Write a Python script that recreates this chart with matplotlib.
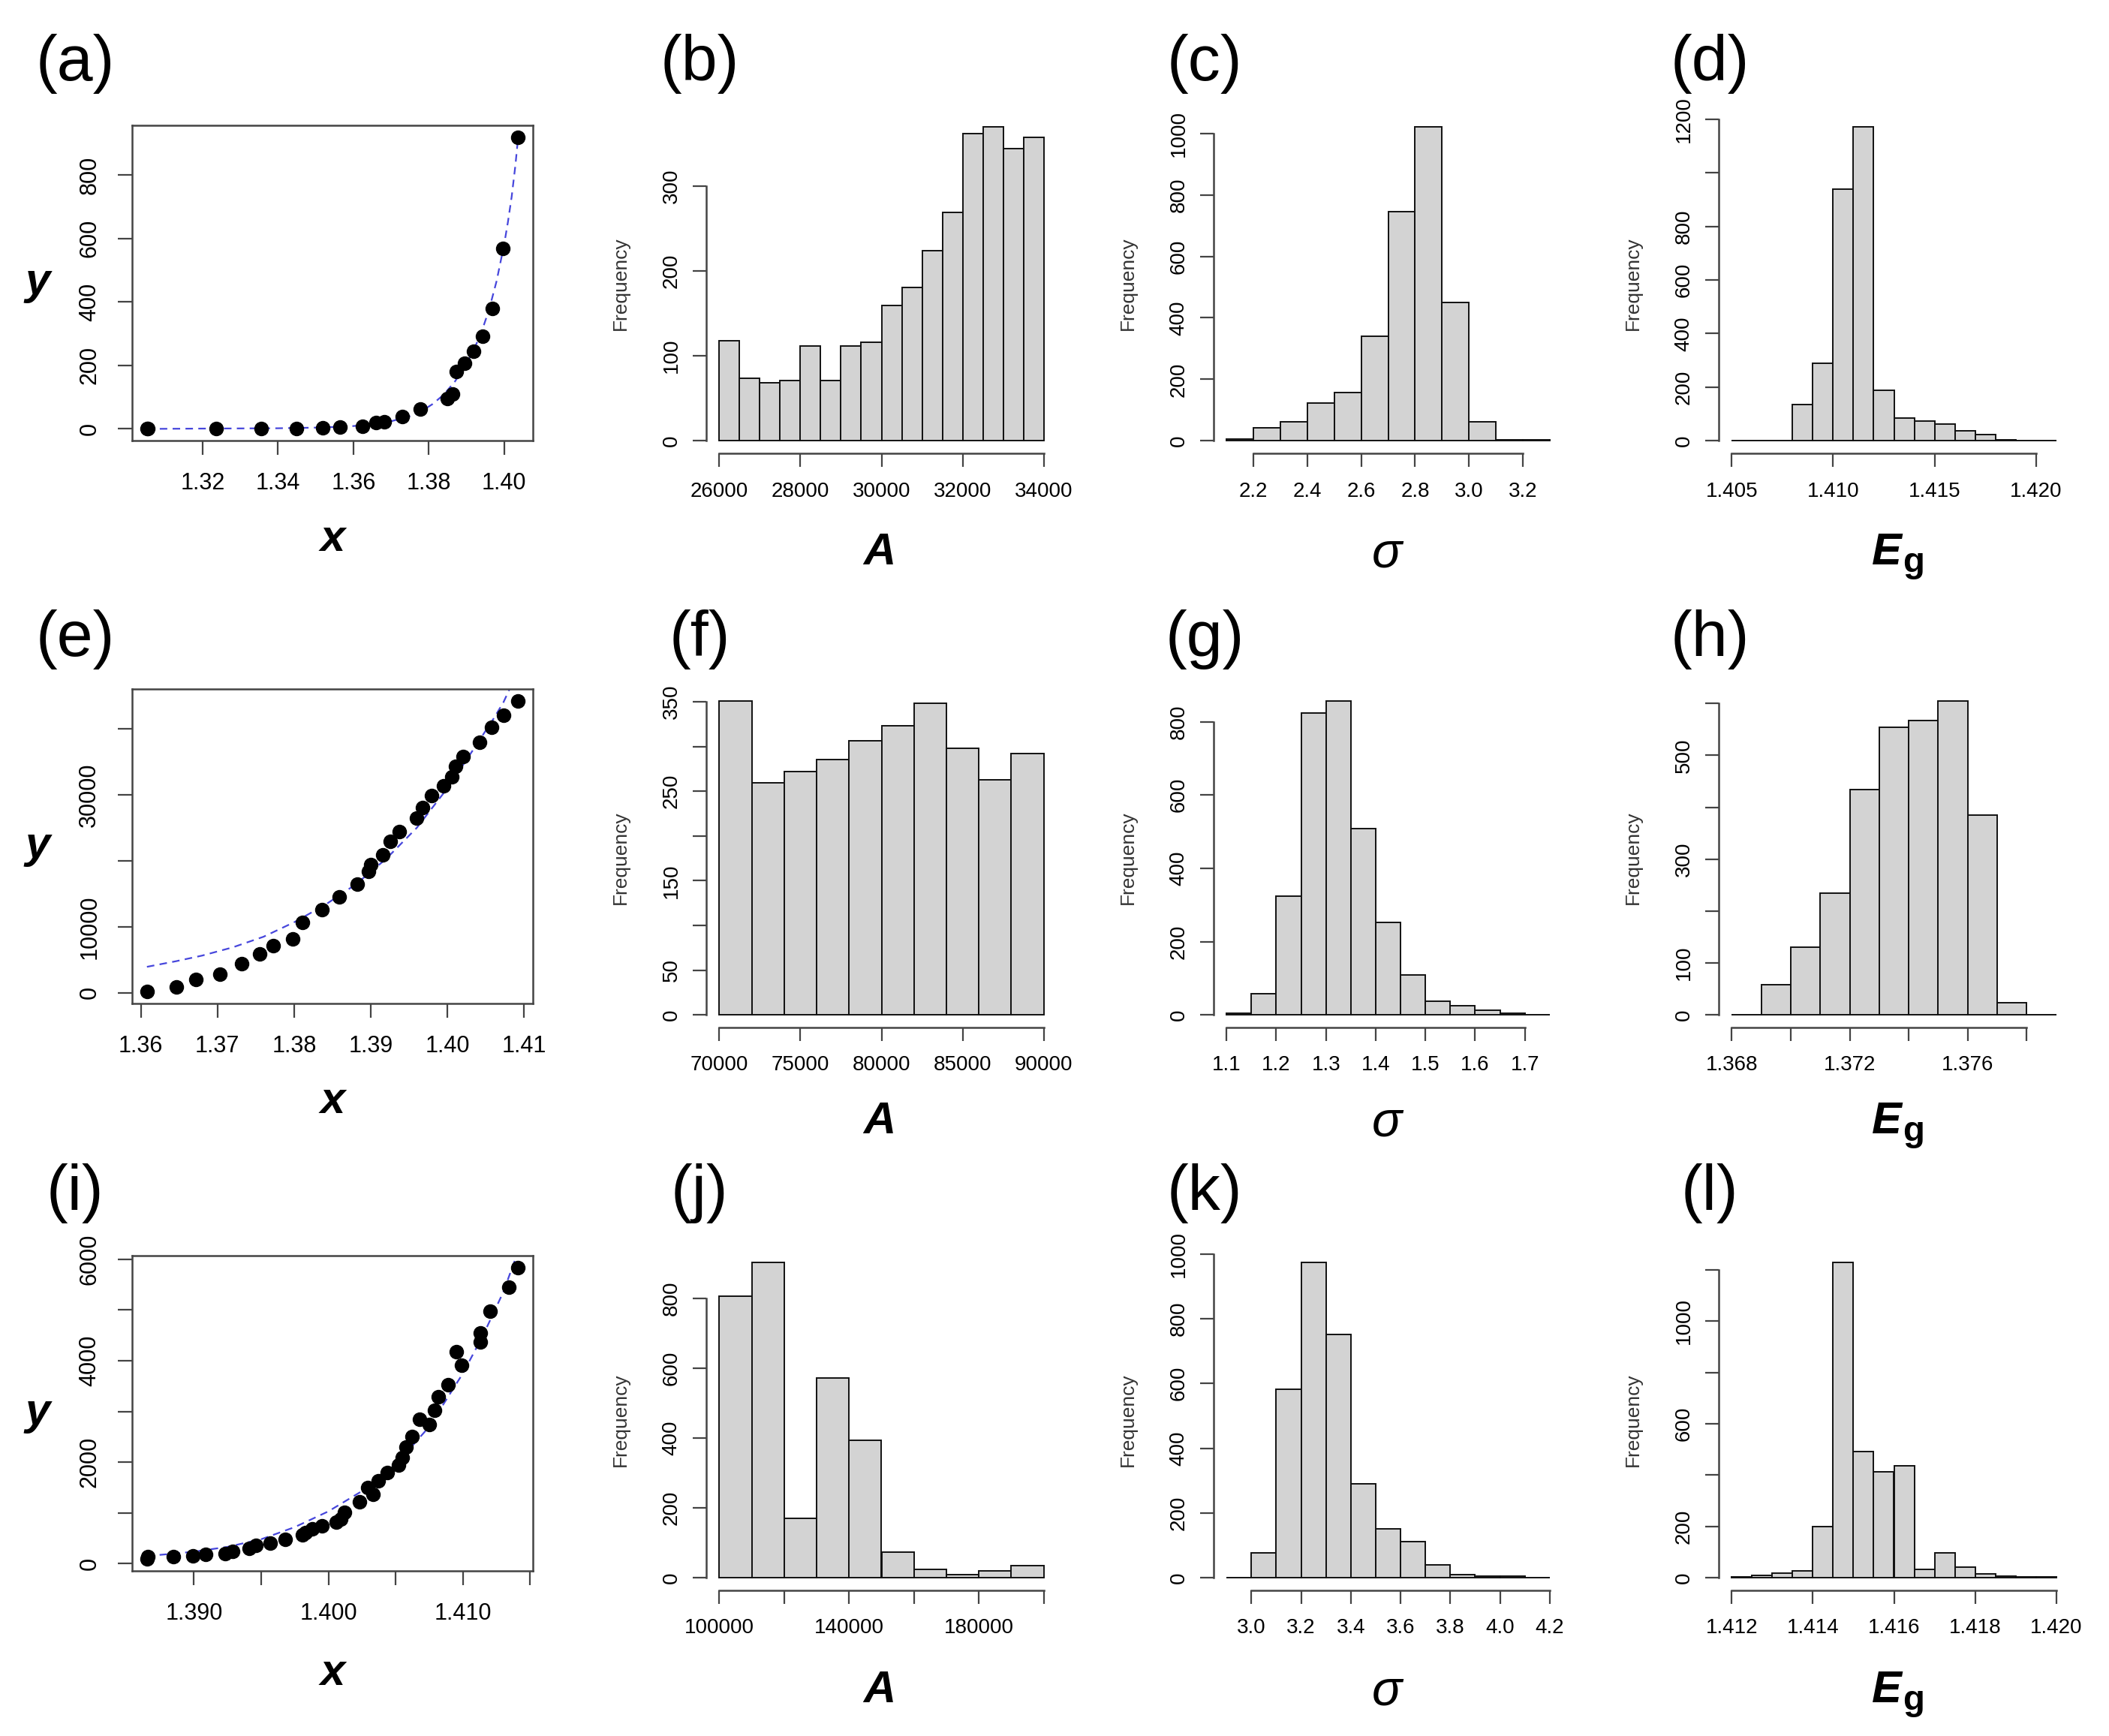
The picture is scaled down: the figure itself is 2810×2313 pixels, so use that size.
import numpy as np
import matplotlib
matplotlib.use("Agg")
import matplotlib.pyplot as plt

plt.rcParams['font.family'] = ['Liberation Sans', 'DejaVu Sans']

W, H = 2810, 2313
BLUE = '#4646dc'
AXC = '#444444'

# ---------------- scatter data (x, y) and fitted curves ----------------
a_x = [1.3052, 1.3055, 1.3236, 1.3355, 1.3449, 1.3519, 1.3565, 1.3624, 1.3661, 1.3681,
       1.3729, 1.3777, 1.3850, 1.3863, 1.3873, 1.3895, 1.3919, 1.3943, 1.3968, 1.3996, 1.4037]
a_y = [0, 2, 1, 1, 2, 4, 6, 8, 20, 22, 38, 62, 96, 109, 180, 206, 245, 291, 378, 568, 919]
a_fit_x = [1.3052, 1.32, 1.34, 1.35, 1.355, 1.36, 1.365, 1.37, 1.375, 1.378, 1.381, 1.384,
           1.387, 1.39, 1.392, 1.394, 1.396, 1.398, 1.400, 1.401, 1.402, 1.403, 1.4037]
a_fit_y = [0, 1, 2, 4, 6, 9, 14, 24, 40, 55, 78, 108, 150, 205, 250, 305, 375, 465, 580,
           650, 730, 830, 915]

e_x = [1.3608, 1.3646, 1.3672, 1.3703, 1.3732, 1.3755, 1.3773, 1.3798, 1.3811, 1.3836,
       1.3859, 1.3882, 1.3897, 1.3900, 1.3916, 1.3925, 1.3937, 1.3960, 1.3967, 1.3979,
       1.3995, 1.4006, 1.4011, 1.4020, 1.4042, 1.4058, 1.4073, 1.4092]
e_y = [165, 937, 2094, 2865, 4408, 5895, 7163, 8154, 10634, 12562, 14490, 16419, 18402,
       19449, 20937, 22975, 24408, 26446, 28044, 29862, 31350, 32672, 34270, 35813, 37906,
       40220, 42039, 44242]
e_fit_x = [1.3608, 1.3646, 1.368, 1.372, 1.376, 1.380, 1.384, 1.388, 1.392, 1.396, 1.400,
           1.403, 1.406, 1.4073, 1.4081, 1.4092]
e_fit_y = [3950, 4800, 5650, 6900, 8500, 10700, 13300, 16400, 20300, 25000, 31000, 36200,
           41500, 44000, 46000, 49000]

i_x = [1.38651, 1.3866, 1.38845, 1.3899, 1.39085, 1.3923, 1.3929, 1.3941, 1.3946, 1.3957,
       1.3968, 1.3981, 1.3983, 1.3988, 1.3995, 1.4006, 1.4009, 1.4012, 1.4023, 1.4029,
       1.4033, 1.4037, 1.4044, 1.4052, 1.4055, 1.4058, 1.4062, 1.4068, 1.4075, 1.4079,
       1.4082, 1.4089, 1.4095, 1.4099, 1.4113, 1.4113, 1.4120, 1.4134, 1.4141]
i_y = [87, 145, 131, 160, 182, 196, 240, 305, 364, 400, 473, 567, 618, 691, 742, 822, 873,
       1018, 1222, 1505, 1360, 1636, 1796, 1942, 2087, 2291, 2509, 2851, 2742, 3018, 3295,
       3527, 4182, 3905, 4545, 4364, 4982, 5455, 5840]
i_fit_x = [1.3865, 1.388, 1.390, 1.3925, 1.395, 1.3975, 1.400, 1.4025, 1.405, 1.4075,
           1.410, 1.4115, 1.413, 1.4141]
i_fit_y = [150, 185, 235, 330, 480, 720, 1030, 1430, 1950, 2700, 3750, 4500, 5350, 6150]

# ---------------- histogram data (bin edges, counts) ----------------
b_breaks = np.linspace(26000, 34000, 17)
b_counts = [118, 74, 68, 71, 112, 71, 112, 116, 159, 181, 224, 269, 362, 370, 344, 357]

c_breaks = np.linspace(2.1, 3.3, 13)
c_counts = [6, 41, 61, 122, 158, 341, 746, 1022, 450, 61, 2, 2]

d_breaks = np.linspace(1.405, 1.421, 17)
d_counts = [1, 1, 1, 135, 289, 939, 1172, 188, 84, 73, 63, 38, 24, 3, 1, 1]

f_breaks = np.linspace(70000, 90000, 11)
f_counts = [351, 259, 272, 285, 306, 323, 348, 298, 263, 292]

g_breaks = np.linspace(1.10, 1.75, 14)
g_counts = [5, 58, 324, 823, 857, 508, 252, 109, 37, 25, 12, 4, 1]

h_breaks = np.linspace(1.368, 1.379, 12)
h_counts = [1, 58, 131, 235, 434, 554, 567, 605, 385, 23, 1]

j_breaks = np.linspace(100000, 200000, 11)
j_counts = [805, 903, 170, 572, 394, 73, 25, 8, 20, 34]

k_breaks = np.linspace(2.9, 4.2, 14)
k_counts = [1, 77, 583, 974, 751, 291, 151, 112, 40, 10, 6, 4, 1]

l_breaks = np.linspace(1.412, 1.420, 17)
l_counts = [4, 9, 17, 27, 200, 1229, 492, 413, 437, 32, 96, 42, 14, 6, 3, 3]


def px_box(l, t, r, b):
    return [l / W, 1 - b / H, (r - l) / W, (b - t) / H]


def ftext(x, y, s, **kw):
    fig.text(x / W, 1 - y / H, s, **kw)


def r_lim(vals):
    # R style axis range: data range extended by 4% on each side
    lo, hi = min(vals), max(vals)
    pad = 0.04 * (hi - lo)
    return lo - pad, hi + pad


def center_ylabels(ax):
    for t in ax.get_yticklabels():
        t.set_rotation(90)
        t.set_verticalalignment('center')
        t.set_horizontalalignment('right')


def scatter_panel(box, px, py, cx, cy, xticks, xlabels, yticks, ylabels):
    ax = fig.add_axes(px_box(*box))
    ax.plot(cx, cy, color=BLUE, lw=1.6, ls=(0, (4.5, 3.2)))
    ax.plot(px, py, 'o', ms=13, color='black')
    ax.set_xlim(r_lim(px))
    ax.set_ylim(r_lim(py))
    ax.set_xticks(xticks, xlabels)
    ax.set_yticks(yticks, ylabels)
    ax.tick_params(length=14, width=1.6, labelsize=22, pad=16, color=AXC)
    center_ylabels(ax)
    for s in ax.spines.values():
        s.set_linewidth(1.8)
        s.set_color(AXC)
    return ax


def hist_panel(box, breaks, counts, xticks, xlabels, yticks, ylabels):
    ax = fig.add_axes(px_box(*box))
    ax.bar(breaks[:-1], counts, width=np.diff(breaks), align='edge',
           color='#d3d3d3', edgecolor='#111111', linewidth=1.4)
    ax.set_xlim(r_lim(breaks))
    ax.set_ylim(r_lim([0] + counts))
    ax.set_xticks(xticks, xlabels)
    ax.set_yticks(yticks, ylabels)
    ax.tick_params(length=13, width=1.6, labelsize=20, color=AXC)
    ax.tick_params(axis='x', pad=14)
    ax.tick_params(axis='y', pad=11)
    center_ylabels(ax)
    ax.spines['top'].set_visible(False)
    ax.spines['right'].set_visible(False)
    ax.spines['left'].set_bounds(yticks[0], yticks[-1])
    ax.spines['bottom'].set_bounds(xticks[0], xticks[-1])
    for s in ('left', 'bottom'):
        ax.spines[s].set_linewidth(1.8)
        ax.spines[s].set_color(AXC)
    l, t, r, b = box
    ftext(l - 114, (t + b) / 2, 'Frequency', rotation=90, fontsize=19,
          ha='center', va='center', color='#333333')
    return ax


fig = plt.figure(figsize=(W / 100, H / 100), dpi=100)

# row positions (pixels)
sc_rows = [(167, 587), (918, 1337), (1673, 2093)]
hi_rows = [(152, 604), (917, 1369), (1665, 2119)]
sc_col = (176, 710)
hi_cols = [(941, 1408), (1617, 2082), (2290, 2757)]

# scatter panels
scatter_panel((sc_col[0], sc_rows[0][0], sc_col[1], sc_rows[0][1]), a_x, a_y, a_fit_x, a_fit_y,
              [1.32, 1.34, 1.36, 1.38, 1.40], ['1.32', '1.34', '1.36', '1.38', '1.40'],
              [0, 200, 400, 600, 800], ['0', '200', '400', '600', '800'])
scatter_panel((sc_col[0], sc_rows[1][0], sc_col[1], sc_rows[1][1]), e_x, e_y, e_fit_x, e_fit_y,
              [1.36, 1.37, 1.38, 1.39, 1.40, 1.41], ['1.36', '1.37', '1.38', '1.39', '1.40', '1.41'],
              [0, 10000, 20000, 30000, 40000], ['0', '10000', '', '30000', ''])
scatter_panel((sc_col[0], sc_rows[2][0], sc_col[1], sc_rows[2][1]), i_x, i_y, i_fit_x, i_fit_y,
              [1.390, 1.395, 1.400, 1.405, 1.410, 1.415], ['1.390', '', '1.400', '', '1.410', ''],
              [0, 1000, 2000, 3000, 4000, 5000, 6000], ['0', '', '2000', '', '4000', '', '6000'])

# histogram panels, row 1
hist_panel((hi_cols[0][0], hi_rows[0][0], hi_cols[0][1], hi_rows[0][1]), b_breaks, b_counts,
           [26000, 28000, 30000, 32000, 34000], ['26000', '28000', '30000', '32000', '34000'],
           [0, 100, 200, 300], ['0', '100', '200', '300'])
hist_panel((hi_cols[1][0], hi_rows[0][0], hi_cols[1][1], hi_rows[0][1]), c_breaks, c_counts,
           [2.2, 2.4, 2.6, 2.8, 3.0, 3.2], ['2.2', '2.4', '2.6', '2.8', '3.0', '3.2'],
           [0, 200, 400, 600, 800, 1000], ['0', '200', '400', '600', '800', '1000'])
hist_panel((hi_cols[2][0], hi_rows[0][0], hi_cols[2][1], hi_rows[0][1]), d_breaks, d_counts,
           [1.405, 1.410, 1.415, 1.420], ['1.405', '1.410', '1.415', '1.420'],
           [0, 200, 400, 600, 800, 1000, 1200], ['0', '200', '400', '600', '800', '', '1200'])

# row 2
hist_panel((hi_cols[0][0], hi_rows[1][0], hi_cols[0][1], hi_rows[1][1]), f_breaks, f_counts,
           [70000, 75000, 80000, 85000, 90000], ['70000', '75000', '80000', '85000', '90000'],
           [0, 50, 100, 150, 200, 250, 300, 350], ['0', '50', '', '150', '', '250', '', '350'])
hist_panel((hi_cols[1][0], hi_rows[1][0], hi_cols[1][1], hi_rows[1][1]), g_breaks, g_counts,
           [1.1, 1.2, 1.3, 1.4, 1.5, 1.6, 1.7], ['1.1', '1.2', '1.3', '1.4', '1.5', '1.6', '1.7'],
           [0, 200, 400, 600, 800], ['0', '200', '400', '600', '800'])
hist_panel((hi_cols[2][0], hi_rows[1][0], hi_cols[2][1], hi_rows[1][1]), h_breaks, h_counts,
           [1.368, 1.370, 1.372, 1.374, 1.376, 1.378], ['1.368', '', '1.372', '', '1.376', ''],
           [0, 100, 200, 300, 400, 500, 600], ['0', '100', '', '300', '', '500', ''])

# row 3
hist_panel((hi_cols[0][0], hi_rows[2][0], hi_cols[0][1], hi_rows[2][1]), j_breaks, j_counts,
           [100000, 120000, 140000, 160000, 180000, 200000],
           ['100000', '', '140000', '', '180000', ''],
           [0, 200, 400, 600, 800], ['0', '200', '400', '600', '800'])
hist_panel((hi_cols[1][0], hi_rows[2][0], hi_cols[1][1], hi_rows[2][1]), k_breaks, k_counts,
           [3.0, 3.2, 3.4, 3.6, 3.8, 4.0, 4.2], ['3.0', '3.2', '3.4', '3.6', '3.8', '4.0', '4.2'],
           [0, 200, 400, 600, 800, 1000], ['0', '200', '400', '600', '800', '1000'])
hist_panel((hi_cols[2][0], hi_rows[2][0], hi_cols[2][1], hi_rows[2][1]), l_breaks, l_counts,
           [1.412, 1.414, 1.416, 1.418, 1.420], ['1.412', '1.414', '1.416', '1.418', '1.420'],
           [0, 200, 400, 600, 800, 1000, 1200], ['0', '200', '', '600', '', '1000', ''])

# panel letters
letters = [['(a)', '(b)', '(c)', '(d)'], ['(e)', '(f)', '(g)', '(h)'], ['(i)', '(j)', '(k)', '(l)']]
letter_x = [100, 932, 1605, 2278]
letter_y = [85, 852, 1590]
for r in range(3):
    for c in range(4):
        ftext(letter_x[c], letter_y[r], letters[r][c], fontsize=62, ha='center', va='center')

# axis labels
lab = dict(fontsize=43, fontweight='bold', fontstyle='italic')
sc_base = [734, 1483, 2245]
hi_base = [752, 1510, 2268]
for r in range(3):
    t, b = sc_rows[r]
    ftext(50, (t + b) / 2, 'y', ha='center', va='center', **lab)
    ftext(443, sc_base[r], 'x', ha='center', va='baseline', **lab)
    ftext(1172, hi_base[r], 'A', ha='center', va='baseline', **lab)
    ftext(1848, hi_base[r] + 4, '\u03c3', ha='center', va='baseline', fontsize=48,
          fontstyle='italic')
    ftext(2534, hi_base[r], 'E', ha='right', va='baseline', **lab)
    ftext(2535, hi_base[r] + 10, 'g', ha='left', va='baseline', fontsize=34,
          fontweight='bold')

fig.savefig('out.png', dpi=100)
